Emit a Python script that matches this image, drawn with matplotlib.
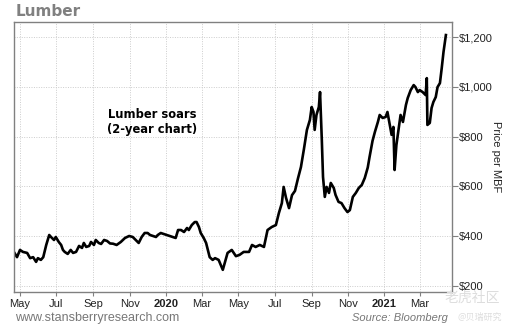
import matplotlib
matplotlib.use("Agg")
import matplotlib.pyplot as plt
import pandas as pd

# lumber price, $ per MBF
dates = [
    "2019-04-21", "2019-04-26", "2019-05-01", "2019-05-06", "2019-05-13", "2019-05-18",
    "2019-05-23", "2019-05-28", "2019-05-31", "2019-06-05", "2019-06-09", "2019-06-14",
    "2019-06-19", "2019-06-22", "2019-06-27", "2019-06-30", "2019-07-05", "2019-07-09",
    "2019-07-12", "2019-07-15", "2019-07-20", "2019-07-25", "2019-07-29", "2019-08-03",
    "2019-08-08", "2019-08-13", "2019-08-16", "2019-08-20", "2019-08-25", "2019-08-28",
    "2019-09-02", "2019-09-05", "2019-09-10", "2019-09-14", "2019-09-19", "2019-09-24",
    "2019-09-29", "2019-10-04", "2019-10-10", "2019-10-17", "2019-10-24", "2019-10-31",
    "2019-11-06", "2019-11-11", "2019-11-16", "2019-11-21", "2019-11-26", "2019-12-01",
    "2019-12-05", "2019-12-10", "2019-12-15", "2019-12-18", "2019-12-23", "2019-12-28",
    "2020-01-02", "2020-01-07", "2020-01-12", "2020-01-17", "2020-01-21", "2020-01-26",
    "2020-01-31", "2020-02-05", "2020-02-08", "2020-02-13", "2020-02-18", "2020-02-21",
    "2020-02-25", "2020-02-28", "2020-03-04", "2020-03-08", "2020-03-11", "2020-03-14",
    "2020-03-19", "2020-03-23", "2020-03-29", "2020-04-05", "2020-04-13", "2020-04-20",
    "2020-04-27", "2020-05-03", "2020-05-10", "2020-05-19", "2020-05-24", "2020-05-30",
    "2020-06-06", "2020-06-13", "2020-06-19", "2020-06-26", "2020-07-03", "2020-07-08",
    "2020-07-13", "2020-07-16", "2020-07-20", "2020-07-25", "2020-07-30", "2020-08-04",
    "2020-08-09", "2020-08-14", "2020-08-19", "2020-08-24", "2020-08-29", "2020-09-01",
    "2020-09-04", "2020-09-06", "2020-09-09", "2020-09-13", "2020-09-15", "2020-09-18",
    "2020-09-20", "2020-09-23", "2020-09-26", "2020-09-30", "2020-10-03", "2020-10-08",
    "2020-10-11", "2020-10-16", "2020-10-21", "2020-10-26", "2020-10-31", "2020-11-04",
    "2020-11-09", "2020-11-14", "2020-11-19", "2020-11-24", "2020-11-29", "2020-12-04",
    "2020-12-07", "2020-12-12", "2020-12-16", "2020-12-21", "2020-12-24", "2020-12-29",
    "2021-01-03", "2021-01-06", "2021-01-10", "2021-01-13", "2021-01-16", "2021-01-18",
    "2021-01-21", "2021-01-25", "2021-01-28", "2021-02-01", "2021-02-06", "2021-02-09",
    "2021-02-14", "2021-02-19", "2021-02-22", "2021-02-26", "2021-03-01", "2021-03-06",
    "2021-03-11", "2021-03-13", "2021-03-14", "2021-03-18", "2021-03-21", "2021-03-24",
    "2021-03-28", "2021-03-31", "2021-04-04", "2021-04-07", "2021-04-10", "2021-04-14",
]
prices = [
    336, 316, 345, 337, 333, 312,
    316, 297, 312, 305, 316, 365,
    405, 397, 385, 397, 377, 365,
    345, 337, 329, 345, 333, 337,
    361, 353, 373, 357, 361, 377,
    365, 385, 373, 369, 385, 381,
    371, 370, 365, 377, 393, 401,
    397, 385, 373, 397, 413, 413,
    405, 401, 397, 405, 413, 409,
    405, 401, 397, 393, 425, 425,
    417, 433, 425, 445, 457, 457,
    437, 413, 393, 373, 345, 316,
    305, 312, 305, 265, 333, 345,
    320, 325, 337, 337, 365, 357,
    365, 357, 425, 437, 445, 493,
    533, 598, 554, 513, 565, 582,
    632, 678, 750, 827, 867, 919,
    899, 827, 887, 919, 979, 786,
    638, 558, 598, 574, 614, 594,
    566, 538, 533, 513, 497, 505,
    558, 574, 594, 606, 634, 676,
    718, 783, 819, 859, 887, 875,
    879, 899, 847, 807, 839, 666,
    766, 835, 887, 859, 927, 955,
    987, 1007, 999, 979, 987, 979,
    967, 1035, 847, 855, 915, 939,
    959, 999, 1015, 1075, 1140, 1208,
]
yticks = [200, 400, 600, 800, 1000, 1200]
month_ticks = ["2019-05-01", "2019-07-01", "2019-09-01", "2019-11-01", "2020-01-01",
               "2020-03-01", "2020-05-01", "2020-07-01", "2020-09-01", "2020-11-01",
               "2021-01-01", "2021-03-01"]
month_labels = ["May", "Jul", "Sep", "Nov", "2020", "Mar", "May", "Jul", "Sep", "Nov",
                "2021", "Mar"]

plt.rcParams["font.family"] = ["Liberation Sans", "DejaVu Sans"]

x = pd.to_datetime(dates)
xt = pd.to_datetime(month_ticks)

fig = plt.figure(figsize=(5.1, 3.25), dpi=100)
ax = fig.add_axes([0.0275, 0.1015, 0.8585, 0.8305])

ax.plot(x, prices, color="black", lw=1.9, solid_joinstyle="round")

ax.set_xlim(pd.Timestamp("2019-04-21"), pd.Timestamp("2021-04-24"))
ax.set_ylim(176, 1260)

ax.set_xticks(xt)
ax.set_xticklabels(month_labels, fontsize=8, color="#222222")
for lbl in ax.get_xticklabels():
    if lbl.get_text() in ("2020", "2021"):
        lbl.set_fontweight("bold")
ax.yaxis.tick_right()
ax.set_yticks(yticks)
ax.set_yticklabels(["${:,}".format(v) for v in yticks], fontsize=8, color="#222222")
ax.tick_params(axis="y", length=4, width=0.8, color="#808080", pad=1)
ax.tick_params(axis="x", length=3, width=0.8, color="#808080", pad=2)

ax.yaxis.set_label_position("right")
ax.set_ylabel("Price per MBF", rotation=270, fontsize=8, color="#222222", labelpad=6)

ax.grid(True, color="#cccccc", linestyle=(0, (1, 1.5)), lw=0.7)
for s in ax.spines.values():
    s.set_color("#808080")
    s.set_linewidth(1)

ax.text(0.315, 0.63, "Lumber soars\n(2-year chart)", transform=ax.transAxes,
        ha="center", va="center", fontsize=8.3, fontweight="bold",
        family="DejaVu Sans", linespacing=1.2)

fig.text(0.03, 0.966, "Lumber", fontsize=11, fontweight="bold", color="#808080",
         family="DejaVu Sans", va="center", ha="left")
fig.text(0.03, 0.023, "www.stansberryresearch.com", fontsize=9, color="#777777",
         va="center", ha="left")
fig.text(0.878, 0.023, "Source: Bloomberg", fontsize=8, style="italic", color="#777777",
         va="center", ha="right")

# faint watermark
fig.text(0.98, 0.083, "老虎社区", fontsize=10, color="#dddddd",
         family=["Noto Sans CJK SC", "DejaVu Sans"], va="center", ha="right")
fig.text(0.985, 0.025, "@贝瑞研究", fontsize=6.5, color="#dddddd",
         family=["Noto Sans CJK SC", "DejaVu Sans"], va="center", ha="right")

fig.savefig("out.png", dpi=100)
